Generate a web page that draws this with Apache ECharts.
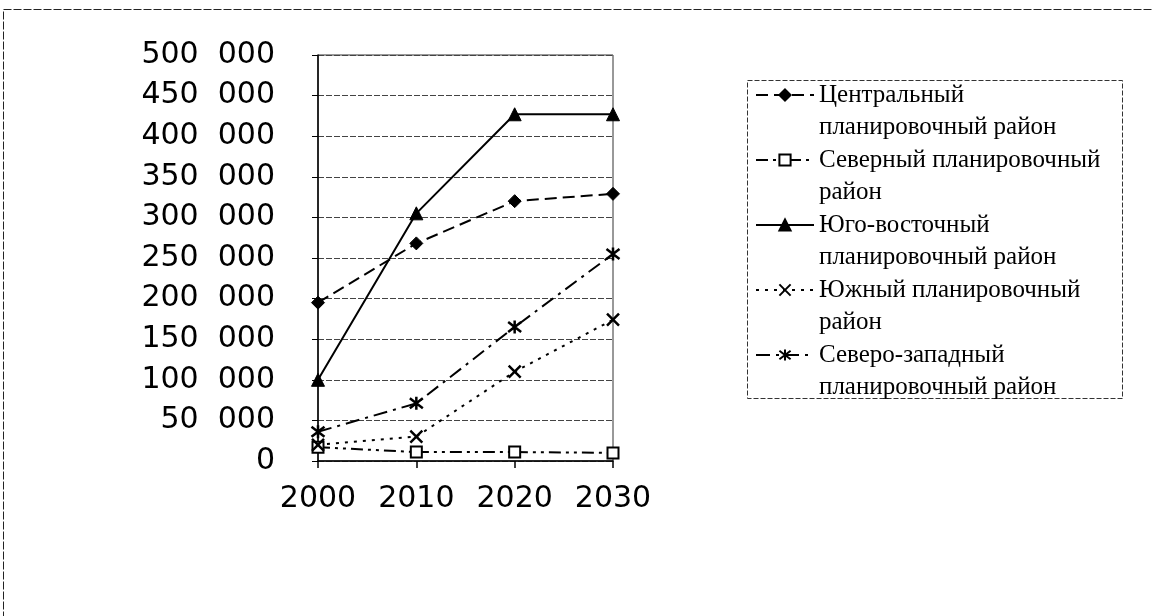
<!DOCTYPE html>
<html>
<head>
<meta charset="utf-8">
<script src="https://cdn.jsdelivr.net/npm/echarts@6/dist/echarts.min.js"></script>
<style>
  html, body { margin: 0; padding: 0; background: #fff; }
  #chart { width: 1152px; height: 616px; }
</style>
</head>
<body>
<div id="chart"></div>
<script>
// Population forecast by planning district
const years = ['2000', '2010', '2020', '2030'];

const seriesNames = [
  'Центральный планировочный район',
  'Северный планировочный район',
  'Юго-восточный планировочный район',
  'Южный планировочный район',
  'Северо-западный планировочный район'
];

// legend captions, wrapped as two lines each
const legendLines = [
  'Центральный\nпланировочный район',
  'Северный планировочный\nрайон',
  'Юго-восточный\nпланировочный район',
  'Южный планировочный\nрайон',
  'Северо-западный\nпланировочный район'
];

const central   = [195000, 268000, 320000, 329000];
const northern  = [17000, 11000, 11000, 10000];
const southEast = [100000, 305000, 427000, 427000];
const southern  = [20000, 30000, 110000, 174000];
const northWest = [36000, 71000, 165000, 255000];

const yTicks = { min: 0, max: 500000, step: 50000 };

const crossPath = 'path://M0,0L10,10M10,0L0,10';
const starPath = 'path://M0,0L10,10M10,0L0,10M5,-1.5L5,11.5';

function thousands(v) {
  if (v === 0) return '0';
  const s = String(v);
  return s.slice(0, s.length - 3) + '  ' + s.slice(-3);
}

function lineSeries(name, data, dash, symbol, size, filled, lw) {
  return {
    name: name,
    type: 'line',
    data: data,
    symbol: symbol,
    symbolSize: size,
    showAllSymbol: true,
    animation: false,
    lineStyle: { color: '#000', width: lw, type: dash },
    itemStyle: filled
      ? { color: '#000', borderColor: '#000', borderWidth: 1 }
      : { color: '#fff', borderColor: '#000', borderWidth: 2 },
    emphasis: { disabled: true },
    z: 3
  };
}

const chart = echarts.init(document.getElementById('chart'), null, { renderer: 'canvas' });

// a blank leading line keeps the icon level with the caption's first line
const labelFor = {};
seriesNames.forEach(function (n, i) { labelFor[n] = ' \n' + legendLines[i]; });

const legendLineHeight = 32;

chart.setOption({
  animation: false,
  backgroundColor: '#fff',
  grid: {
    left: 318, top: 55, width: 295, height: 406,
    show: true, borderColor: '#333', borderWidth: 1, backgroundColor: 'transparent'
  },
  xAxis: {
    type: 'category',
    data: years,
    boundaryGap: false,
    axisLine: { lineStyle: { color: '#000', width: 1.5 } },
    axisTick: { show: true, length: 7, interval: 0, lineStyle: { color: '#000', width: 1.5 } },
    axisLabel: {
      color: '#000', fontFamily: 'DejaVu Sans', fontSize: 30, margin: 23,
      interval: 0, hideOverlap: false
    },
    splitLine: { show: false }
  },
  yAxis: {
    type: 'value',
    min: yTicks.min, max: yTicks.max, interval: yTicks.step,
    axisLine: { show: true, lineStyle: { color: '#000', width: 1.5 } },
    axisTick: { show: true, length: 6, lineStyle: { color: '#000', width: 1 } },
    axisLabel: {
      color: '#000', fontFamily: 'DejaVu Sans', fontSize: 30, margin: 43,
      formatter: thousands
    },
    splitLine: { show: true, lineStyle: { color: '#444', width: 1, type: [6, 2] } }
  },
  legend: {
    orient: 'vertical',
    left: 755,
    top: 95 - legendLineHeight * 1.5,
    padding: 0,
    itemGap: 65 - legendLineHeight * 3,
    itemWidth: 58,
    itemHeight: 14,
    selectedMode: false,
    data: seriesNames,
    formatter: function (n) { return labelFor[n]; },
    textStyle: {
      color: '#000', fontFamily: 'Liberation Serif', fontSize: 25,
      lineHeight: legendLineHeight
    }
  },
  graphic: [
    {
      type: 'rect', silent: true, z: 0,
      shape: { x: 3.5, y: 9.5, width: 1200, height: 700 },
      style: { fill: 'none', stroke: '#222', lineWidth: 1, lineDash: [8, 2] }
    },
    {
      type: 'rect', silent: true, z: 0,
      shape: { x: 747.5, y: 80.5, width: 375, height: 318 },
      style: { fill: 'none', stroke: '#333', lineWidth: 1, lineDash: [5, 2] }
    }
  ],
  series: [
    lineSeries(seriesNames[0], central, [12, 6], 'diamond', 13, true, 2),
    lineSeries(seriesNames[1], northern, [12, 5, 3, 5, 3, 5], 'rect', 11, false, 2),
    lineSeries(seriesNames[2], southEast, 'solid', 'triangle', 13, true, 2),
    Object.assign(lineSeries(seriesNames[3], southern, [3, 6], crossPath, 12, true, 2),
      { itemStyle: { color: '#000', borderColor: '#000', borderWidth: 2.5 } }),
    Object.assign(lineSeries(seriesNames[4], northWest, [14, 6, 3, 6], starPath, 13, true, 2),
      { itemStyle: { color: '#000', borderColor: '#000', borderWidth: 2.5 } })
  ]
});
</script>
</body>
</html>
